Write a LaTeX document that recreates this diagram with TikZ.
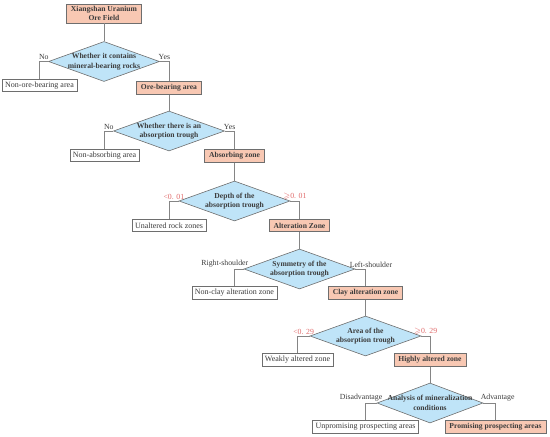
\documentclass[tikz,border=0pt]{standalone}
\usepackage{amssymb}
\usepackage{fontspec}
\setmainfont{Liberation Serif}
\usetikzlibrary{shapes.geometric}

\definecolor{boxred}{HTML}{F8C8B3}
\definecolor{askblue}{HTML}{BFE4F8}
\definecolor{edgegray}{HTML}{6E6E6E}
\definecolor{wiregray}{HTML}{858585}
\definecolor{inkgray}{HTML}{3C3C3C}
\definecolor{labred}{HTML}{E06A6A}

\tikzset{
  hit/.style={rectangle, draw=edgegray, fill=boxred, line width=0.8pt, text=inkgray,
    font=\fontsize{7.6}{8.8}\selectfont\bfseries, inner xsep=4.5pt, inner ysep=1pt,
    minimum height=12.5pt, align=center},
  miss/.style={rectangle, draw=edgegray, fill=white, line width=0.6pt, text=inkgray,
    font=\fontsize{8}{9}\selectfont, inner xsep=3pt, inner ysep=1pt, minimum height=12.5pt},
  ask/.style={diamond, draw=edgegray, fill=askblue, line width=0.6pt, inner sep=0pt,
    minimum width=111pt, minimum height=40pt},
  asktext/.style={align=center, text=inkgray, font=\fontsize{7.6}{9.5}\selectfont\bfseries},
  wire/.style={draw=wiregray, line width=0.9pt},
  lbl/.style={font=\fontsize{7.8}{9}\selectfont, text=inkgray, inner sep=1pt},
  redlbl/.style={lbl, text=labred}
}

\begin{document}
\begin{tikzpicture}[x=1pt, y=-1pt]
  \useasboundingbox (0,0) rectangle (550,437);

  % start
  \node[hit, minimum height=19pt] (top) at (104,13.5) {Xiangshan Uranium\\Ore Field};

  % step 1
  \node[ask, label={[asktext]center:Whether it contains\\mineral-bearing rocks}] (d1) at (104,61.5) {};
  \node[miss] (n1) at (39.5,85.5) {Non-ore-bearing area};
  \node[hit] (y1) at (169,88) {Ore-bearing area};

  % step 2
  \node[ask, label={[asktext]center:Whether there is an\\absorption trough}] (d2) at (169,131) {};
  \node[miss] (n2) at (104.5,155.5) {Non-absorbing area};
  \node[hit] (y2) at (234.5,156) {Absorbing zone};

  % step 3
  \node[ask, label={[asktext]center:Depth of the\\absorption trough}] (d3) at (234.5,201) {};
  \node[miss] (n3) at (169,225.5) {Unaltered rock zones};
  \node[hit] (y3) at (299.5,225.5) {Alteration Zone};

  % step 4
  \node[ask, label={[asktext]center:Symmetry of the\\absorption trough}] (d4) at (299.5,269) {};
  \node[miss] (n4) at (234.5,293) {Non-clay alteration zone};
  \node[hit] (y4) at (365.5,293) {Clay alteration zone};

  % step 5
  \node[ask, label={[asktext]center:Area of the\\absorption trough}] (d5) at (365.5,336) {};
  \node[miss] (n5) at (297.5,360) {Weakly altered zone};
  \node[hit] (y5) at (430,360) {Highly altered zone};

  % step 6
  \node[ask, minimum width=106pt, label={[asktext]center:Analysis of mineralization\\conditions}] (d6) at (430,403) {};
  \node[miss] (n6) at (365.5,427) {Unpromising prospecting areas};
  \node[hit] (y6) at (495.5,427) {Promising prospecting areas};

  % connectors
  \draw[wire] (top) -- (d1);
  \draw[wire] (d1.west) -| node[lbl, pos=0.25, above] {No} (n1.north);
  \draw[wire] (d1.east) -| node[lbl, pos=0.25, above] {Yes} (y1.north);
  \draw[wire] (y1) -- (d2);
  \draw[wire] (d2.west) -| node[lbl, pos=0.25, above] {No} (n2.north);
  \draw[wire] (d2.east) -| node[lbl, pos=0.25, above] {Yes} (y2.north);
  \draw[wire] (y2) -- (d3);
  \draw[wire] (d3.west) -| node[redlbl, pos=0.25, above] {<0. 01} (n3.north);
  \draw[wire] (d3.east) -| node[redlbl, pos=0.25, above] {$\geqslant$0. 01} (y3.north);
  \draw[wire] (y3) -- (d4);
  \draw[wire] (d4.west) -| node[lbl, pos=0, above left, xshift=6pt] {Right-shoulder} (n4.north);
  \draw[wire] (d4.east) -| node[lbl, pos=0, above right, xshift=-7pt] {Left-shoulder} (y4.north);
  \draw[wire] (y4) -- (d5);
  \draw[wire] (d5.west) -| node[redlbl, pos=0.25, above] {<0. 29} (n5.north);
  \draw[wire] (d5.east) -| node[redlbl, pos=0.25, above] {$\geqslant$0. 29} (y5.north);
  \draw[wire] (y5) -- (d6);
  \draw[wire] (d6.west) -| node[lbl, pos=0, above left, xshift=7pt] {Disadvantage} (n6.north);
  \draw[wire] (d6.east) -| node[lbl, pos=0, above right, xshift=-4pt] {Advantage} (y6.north);
\end{tikzpicture}
\end{document}
